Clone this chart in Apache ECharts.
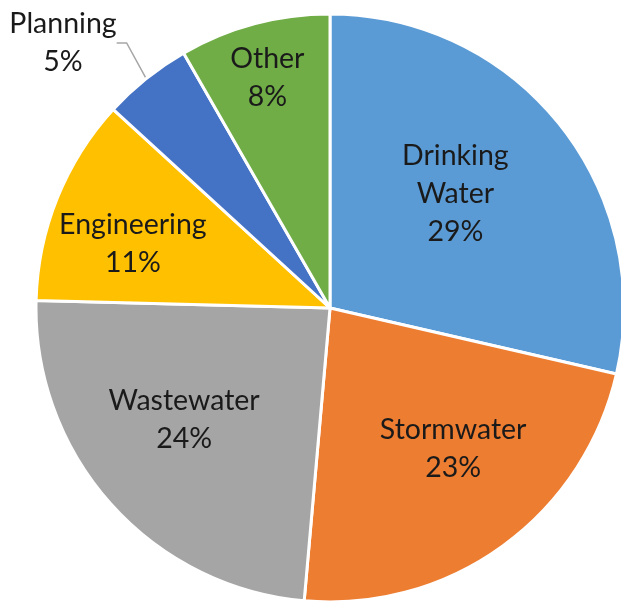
<!DOCTYPE html>
<html>
<head>
<meta charset="utf-8">
<script src="https://cdn.jsdelivr.net/npm/echarts@6/dist/echarts.min.js"></script>
<style>html,body{margin:0;padding:0;background:#fff}#c{width:621px;height:602px}</style>
</head>
<body>
<div id="c"></div>
<script>
var categories = ['Drinking\nWater', 'Stormwater', 'Wastewater', 'Engineering', 'Planning', 'Other'];
var values = [28.6, 22.8, 24.0, 11.4, 4.9, 8.3];
var colors = ['#5B9BD5', '#ED7D31', '#A5A5A5', '#FFC000', '#4472C4', '#70AD47'];
// label offsets relative to default inside position
var labelShift = [[8, -21], [35, 19], [-34, 12], [-58, -8], [0, 0], [-24, -85]];

var chart = echarts.init(document.getElementById('c'), null, {renderer: 'canvas'});
var data = categories.map(function (c, i) {
  var d = {name: c, value: values[i], itemStyle: {color: colors[i]}};
  if (c === 'Planning') {
    d.label = {position: 'outside'};
    d.labelLine = {show: true, length: 40, length2: 10, lineStyle: {color: '#A6A6A6', width: 1.5}};
  }
  return d;
});
chart.setOption({
  animation: false,
  series: [{
    type: 'pie',
    center: [330, 308],
    radius: [0, 294],
    startAngle: 90,
    clockwise: true,
    percentPrecision: 0,
    avoidLabelOverlap: false,
    itemStyle: {borderColor: '#fff', borderWidth: 3},
    label: {
      show: true,
      position: 'inside',
      formatter: '{b}\n{d}%',
      fontFamily: 'Lato',
      fontSize: 28.5,
      lineHeight: 38,
      color: '#1a1a1a',
      align: 'center'
    },
    labelLine: {show: false},
    labelLayout: function (p) {
      var i = p.dataIndex;
      if (categories[i] === 'Planning') {
        return {x: 63, y: 43, align: 'center', verticalAlign: 'middle'};
      }
      return {dx: labelShift[i][0], dy: labelShift[i][1]};
    },
    data: data
  }]
});
</script>
</body>
</html>
